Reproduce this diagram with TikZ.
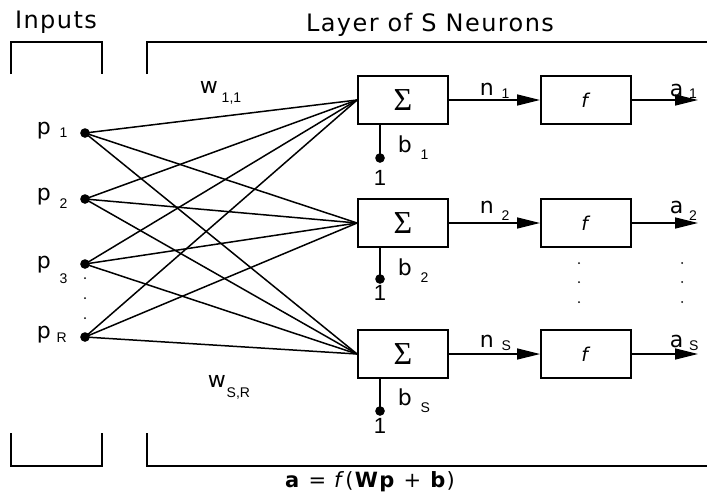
\documentclass[tikz,border=0pt]{standalone}
\usepackage{fontspec}
\setmainfont{DejaVu Sans}
\newfontfamily\widefont[LetterSpace=6]{DejaVu Sans}
\newfontfamily\sigfont{Liberation Serif}
\newfontfamily\digfont{Liberation Sans}
\usetikzlibrary{arrows.meta, calc, positioning}
\tikzset{>={Triangle[length=23pt, width=11pt]}}
\newcommand{\lsub}[4]{#1\hspace{#3}\raisebox{-#4}{\digfont\fontsize{14}{14}\selectfont #2}}
\newcommand{\sumsym}{{\sigfont\fontsize{32}{32}\selectfont Σ}}
\newcommand{\actf}{{\fontsize{19}{19}\selectfont\textit{f}}}
\tikzset{box-s/.style = {draw, line width=1.8pt, rectangle, minimum width=90pt, minimum height=48pt, inner sep=0pt}}
\tikzset{dot-in/.style = {draw, fill, circle, inner sep=0pt, minimum size=8pt}}
\tikzset{dot-el/.style = {fill, circle, inner sep=0pt, minimum size=2pt}}
\tikzset{lbl/.style = {anchor=base west, inner sep=0pt, font=\widefont\fontsize{22}{22}\selectfont}}
\tikzset{head/.style = {anchor=base, inner sep=0pt, font=\widefont\fontsize{24}{24}\selectfont}}
\tikzset{one/.style = {anchor=base, inner sep=0pt, font=\digfont\fontsize{22}{22}\selectfont}}

\begin{document}
\begin{tikzpicture}[x=1pt, y=-1pt, line width=1.5pt]
  \useasboundingbox (0,0) rectangle (707,499);
  % brackets
  \draw (11,74) -- (11,42) -- (102,42) -- (102,74);
  \draw (147,74) -- (147,42) -- (707,42);
  \draw (11,433) -- (11,466) -- (102,466) -- (102,433);
  \draw (147,433) -- (147,466) -- (707,466);
  \node[head] (tin) at (56,28) {Inputs};
  \node[head] (tlay) at (430,31) {Layer of S Neurons};
  \node[head, font=\widefont\fontsize{21}{21}\selectfont] (eq) at (370,487)
    {\textbf{a} = \textit{f}(\textbf{Wp} + \textbf{b})};

  % inputs
  \path (85,133) node[dot-in] (p1) {}
      ++(0,66) node[dot-in] (p2) {}
      ++(0,65) node[dot-in] (p3) {}
      ++(0,73) node[dot-in] (pR) {};
  \node[lbl] at (36,134) {\lsub{p}{1}{9pt}{3pt}};
  \node[lbl] at (36,200) {\lsub{p}{2}{9pt}{8pt}};
  \node[lbl] at (36,268) {\lsub{p}{3}{9pt}{15pt}};
  \node[lbl] at (36,338) {\lsub{p}{R}{6pt}{4pt}};
  \foreach \y in {278, 298, 318}
    \node[dot-el] at (85,\y) {};

  % neurons
  \path (403,100) node[box-s] (s1) {\sumsym}
      ++(183,0) node[box-s] (f1) {\actf}
      ++(112,0) coordinate (o1)
        (403,223) node[box-s] (s2) {\sumsym}
      ++(183,0) node[box-s] (f2) {\actf}
      ++(112,0) coordinate (o2)
        (403,354) node[box-s] (sS) {\sumsym}
      ++(183,0) node[box-s] (fS) {\actf}
      ++(112,0) coordinate (oS);
  \path (380,158) node[dot-in] (c1) {}
        (380,279) node[dot-in] (c2) {}
        (380,411) node[dot-in] (cS) {};
  \node[one] at (380,185) {1};
  \node[one] at (380,300) {1};
  \node[one] at (380,433) {1};
  \node[lbl] at (397,152) {\lsub{b}{1}{9pt}{7pt}};
  \node[lbl] at (397,275) {\lsub{b}{2}{9pt}{7pt}};
  \node[lbl] at (397,405) {\lsub{b}{S}{9pt}{7pt}};
  \node[lbl] at (479,95) {\lsub{n}{1}{8pt}{3pt}};
  \node[lbl] at (479,213) {\lsub{n}{2}{8pt}{7pt}};
  \node[lbl] at (479,347) {\lsub{n}{S}{8pt}{3pt}};
  \node[lbl] at (669,96) {\lsub{a}{1}{6pt}{2pt}};
  \node[lbl] at (669,213) {\lsub{a}{2}{6pt}{7pt}};
  \node[lbl] at (669,347) {\lsub{a}{S}{6pt}{3pt}};
  \node[lbl] at (199,93) {\lsub{w}{1,1}{4pt}{9pt}};
  \node[lbl] at (207,387) {\lsub{w}{S,R}{1pt}{10pt}};
  \foreach \y in {263, 282, 302}
  {
    \node[dot-el] at (579,\y) {};
    \node[dot-el] at (682,\y) {};
  }

  \foreach \i in {p1, p2, p3, pR}
    \foreach \o in {s1, s2, sS}
    {
      \draw (\i.center) -- (\o.west);
    }
  \foreach \i/\o in {s1/f1, f1/o1, s2/f2, f2/o2, sS/fS, fS/oS}
  {
    \draw[->] (\i) -- (\o);
  }
  \foreach \i/\o in {c1/s1, c2/s2, cS/sS}
  {
    \draw (\i.center) -- (\i |- \o.south);
  }
\end{tikzpicture}
\end{document}
